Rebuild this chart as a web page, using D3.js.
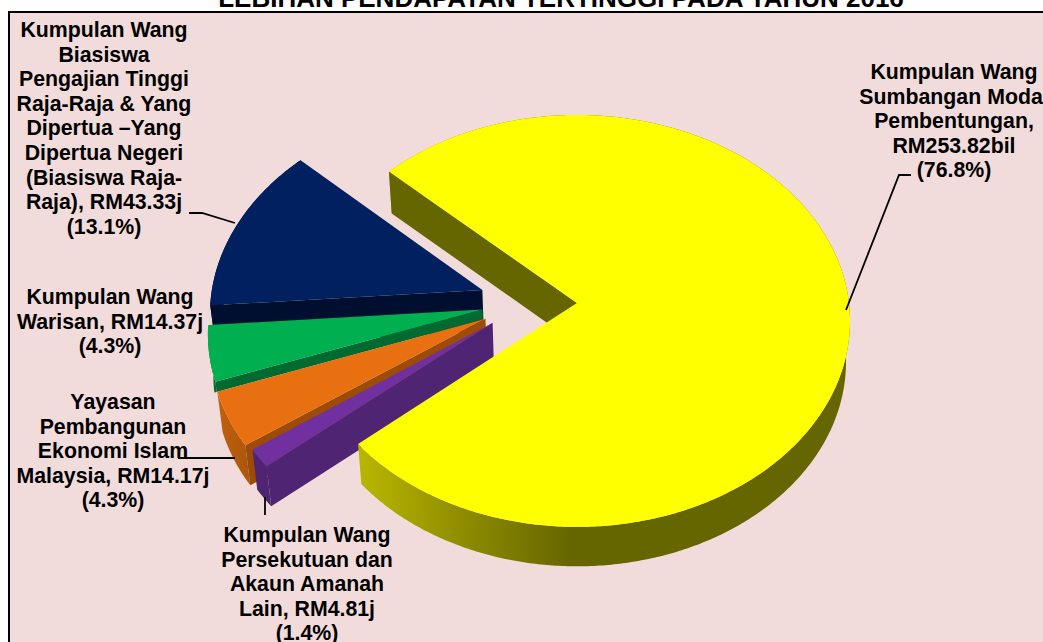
<!DOCTYPE html>
<html>
<head>
<meta charset="utf-8">
<script src="https://cdn.jsdelivr.net/npm/d3@7"></script>
<style>
html, body { margin:0; padding:0; background:#fff; overflow:hidden; }
text { font-family:"Liberation Sans", Arial, sans-serif; font-weight:bold; fill:#000; }
</style>
</head>
<body>
<div id="chart"></div>
<script>
const title = 'LEBIHAN PENDAPATAN TERTINGGI PADA TAHUN 2016'

// order is clockwise starting at the yellow slice
const funds = ['Sumbangan Modal', 'Persekutuan', 'Yayasan', 'Warisan', 'Biasiswa']
const values = [253.82, 4.81, 14.17, 14.37, 43.33]
const labels = [
	['Kumpulan Wang', 'Sumbangan Modal', 'Pembentungan,', 'RM253.82bil', '(76.8%)'],
	['Kumpulan Wang', 'Persekutuan dan', 'Akaun Amanah', 'Lain, RM4.81j', '(1.4%)'],
	['Yayasan', 'Pembangunan', 'Ekonomi Islam', 'Malaysia, RM14.17j', '(4.3%)'],
	['Kumpulan Wang', 'Warisan, RM14.37j', '(4.3%)'],
	['Kumpulan Wang', 'Biasiswa', 'Pengajian Tinggi', 'Raja-Raja & Yang', 'Dipertua –Yang', 'Dipertua Negeri', '(Biasiswa Raja-', 'Raja), RM43.33j', '(13.1%)']
]

// styles and layout, by slice
const topColors = ['#ffff00', '#7030a0', '#e97010', '#00b050', '#002060']
const wallColors = ['#666600', '#4f2472', '#9c4c06', '#006a30', '#000f30']
const rimColors = ['url(#yellowRim)', '#4f2472', 'url(#orangeRim)', '#006a30', '#000f30']
const explodes = [0.18, 0.162, 0.174, 0.17, 0.18]
const labelPos = [[954, 79], [307, 542], [113, 409], [110, 304], [104, 37]]
const leaders = [
	[[911, 175], [899, 175], [846, 310]],
	[[265, 497], [265, 515]],
	[[178, 458], [235, 458]],
	[],
	[[189, 213], [202, 213], [235, 223]]
]

const width = 1043, height = 642
const lineHeight = 24.6

// projection of the tilted disc, unit disc coords -> screen
const originX = 577
const persp = 0.0874
const planes = {
	top: {a:272, b:204.4, y:303},
	bottom: {a:268, b:203, y:344}
}
const project = (u, v, plane) => {
	const f = 1 / (1 + persp * v)
	return [originX + plane.a * u * f, plane.y - plane.b * v * f]
}

const centre = {u:-0.18, v:0.004}

const svg = d3.select('#chart').append('svg')
.attr('width', width)
.attr('height', height)
.style('display', 'block')

const defs = svg.append('defs')

const gradient = (id, x1, x2, stops) => {
	const g = defs.append('linearGradient')
	.attr('id', id)
	.attr('gradientUnits', 'userSpaceOnUse')
	.attr('x1', x1).attr('x2', x2).attr('y1', 0).attr('y2', 0)
	stops.forEach(s => g.append('stop').attr('offset', s[0]).attr('stop-color', s[1]))
}
gradient('yellowRim', 363, 570, [[0, '#b8b500'], [0.5, '#8d8b00'], [1, '#666600']])
gradient('orangeRim', 218, 255, [[0, '#c0610c'], [1, '#a8540a']])

svg.append('rect')
.attr('x', 9)
.attr('y', 12)
.attr('width', width + 20)
.attr('height', height + 20)
.attr('fill', '#f2dcdb')
.attr('stroke', '#000')
.attr('stroke-width', 2)

svg.append('text')
.attr('x', 561)
.attr('y', 7)
.attr('text-anchor', 'middle')
.style('font-size', '26px')
.text(title)

const pie = d3.pie()
.sort(null)
.startAngle(-47.1 * Math.PI / 180)
.endAngle((360 - 47.1) * Math.PI / 180)

const slices = pie(values)
const line = d3.line()

slices.forEach((d, i) => {
	const mid = (d.startAngle + d.endAngle) / 2
	d.apexU = centre.u + explodes[i] * Math.sin(mid)
	d.apexV = centre.v + explodes[i] * Math.cos(mid)
})

const apex = (d, plane) => project(d.apexU, d.apexV, plane)
const rimPoint = (d, angle, plane) => project(d.apexU + Math.sin(angle), d.apexV + Math.cos(angle), plane)
const arcAngles = d => {
	const steps = Math.ceil((d.endAngle - d.startAngle) / 0.01)
	return d3.range(steps + 1).map(i => d.startAngle + (d.endAngle - d.startAngle) * i / steps)
}

const wall = (d, angle) => [
	apex(d, planes.top),
	rimPoint(d, angle, planes.top),
	rimPoint(d, angle, planes.bottom),
	apex(d, planes.bottom)
]

// green's side goes behind orange, so cut it off along orange's top edge
const orange = slices[2]
const orangeApex = apex(orange, planes.top)
const orangeRim = rimPoint(orange, orange.endAngle, planes.top)
const edgeSlope = (orangeRim[1] - orangeApex[1]) / (orangeRim[0] - orangeApex[0])
defs.append('clipPath')
.attr('id', 'aboveOrange')
.append('path')
.attr('d', line([
	[0, 0], [width, 0], [width, orangeApex[1] + edgeSlope * (width - orangeApex[0])],
	[0, orangeApex[1] + edgeSlope * (0 - orangeApex[0])]
]) + 'Z')
const sideClips = [null, null, null, 'url(#aboveOrange)', null]

// painter's order: the yellow slice sits on top of the purple wall
const drawOrder = [4, 3, 2, 1, 0]
const pieG = svg.append('g')

drawOrder.forEach(i => {
	const d = slices[i]
	const g = pieG.append('g').attr('class', 'slice-' + funds[i].replace(' ', '-'))
	const sides = g.append('g').attr('clip-path', sideClips[i])
	const angles = arcAngles(d)

	// outer side, only the front bit shows once the top face goes over it
	const topArc = angles.map(a => rimPoint(d, a, planes.top))
	const bottomArc = angles.map(a => rimPoint(d, a, planes.bottom))
	sides.append('path')
	.attr('d', line(topArc.concat(bottomArc.reverse())) + 'Z')
	.attr('fill', rimColors[i])

	// cut faces that look toward the viewer
	if (Math.sin(d.startAngle) < 0) {
		sides.append('path').attr('d', line(wall(d, d.startAngle)) + 'Z').attr('fill', wallColors[i])
	}
	if (Math.sin(d.endAngle) > 0) {
		sides.append('path').attr('d', line(wall(d, d.endAngle)) + 'Z').attr('fill', wallColors[i])
	}

	g.append('path')
	.attr('d', line([apex(d, planes.top)].concat(topArc)) + 'Z')
	.attr('fill', topColors[i])
})

leaders.forEach(pts => {
	if (!pts.length) return
	svg.append('path')
	.attr('d', line(pts))
	.attr('fill', 'none')
	.attr('stroke', '#000')
	.attr('stroke-width', 1.8)
})

labels.forEach((lines, i) => {
	const t = svg.append('text')
	.attr('text-anchor', 'middle')
	.style('font-size', '21.3px')

	lines.forEach((l, j) => {
		t.append('tspan')
		.attr('x', labelPos[i][0])
		.attr('y', labelPos[i][1] + j * lineHeight)
		.text(l)
	})
})
</script>
</body>
</html>
